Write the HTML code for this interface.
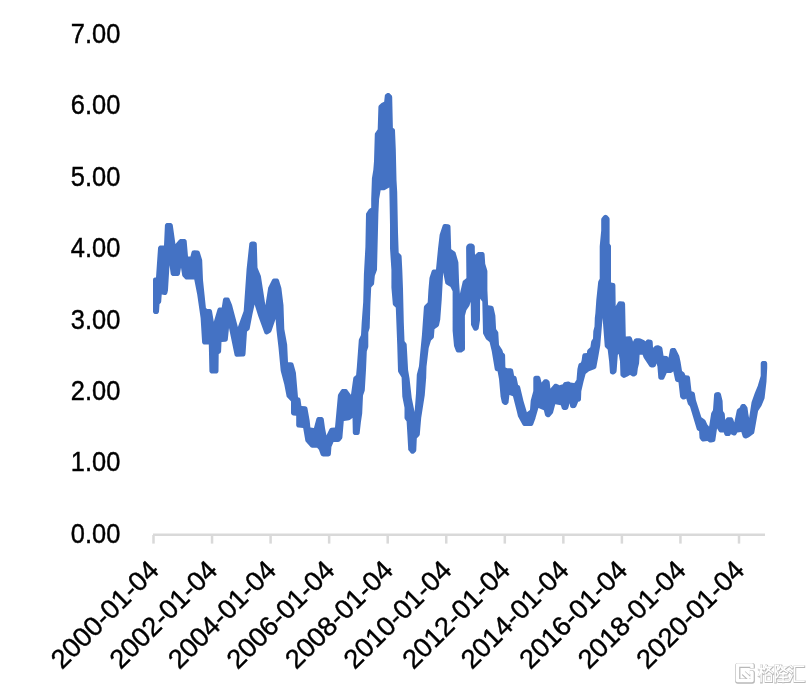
<!DOCTYPE html>
<html><head><meta charset="utf-8"><style>
html,body{margin:0;padding:0;background:#fff;}
svg{display:block;}
text{font-family:"Liberation Sans",sans-serif;font-size:26.5px;fill:#000;stroke:#000;stroke-width:0.4px;}
</style></head><body>
<svg width="810" height="690" viewBox="0 0 810 690">
<rect width="810" height="690" fill="#fff"/>
<rect x="153" y="533.5" width="612" height="2.5" fill="#D9D9D9"/>
<rect x="152.25" y="535" width="2.5" height="8.6" fill="#D9D9D9"/><rect x="210.80" y="535" width="2.5" height="8.6" fill="#D9D9D9"/><rect x="269.35" y="535" width="2.5" height="8.6" fill="#D9D9D9"/><rect x="327.90" y="535" width="2.5" height="8.6" fill="#D9D9D9"/><rect x="386.45" y="535" width="2.5" height="8.6" fill="#D9D9D9"/><rect x="445.00" y="535" width="2.5" height="8.6" fill="#D9D9D9"/><rect x="503.55" y="535" width="2.5" height="8.6" fill="#D9D9D9"/><rect x="562.10" y="535" width="2.5" height="8.6" fill="#D9D9D9"/><rect x="620.65" y="535" width="2.5" height="8.6" fill="#D9D9D9"/><rect x="679.20" y="535" width="2.5" height="8.6" fill="#D9D9D9"/><rect x="737.75" y="535" width="2.5" height="8.6" fill="#D9D9D9"/>

<path d="M155.5,277.4 L154.9,277.5 L154.2,277.7 L153.7,278.1 L153.3,278.6 L153.1,279.3 L153.0,279.9 L153.0,311.5 L153.1,312.1 L153.3,312.8 L153.7,313.3 L154.2,313.7 L154.9,313.9 L155.5,314.0 L156.5,314.0 L157.1,313.9 L157.7,313.7 L158.2,313.3 L158.6,312.8 L158.8,312.3 L159.0,311.7 L159.5,304.2 L159.5,304.0 L159.6,304.0 L160.2,303.6 L160.7,303.1 L161.0,302.5 L161.2,301.8 L161.7,294.7 L161.7,294.5 L161.9,294.5 L164.3,295.0 L165.0,295.1 L165.6,295.0 L166.2,294.7 L166.7,294.3 L167.0,293.7 L167.3,293.2 L168.0,290.2 L168.0,289.8 L169.5,265.2 L169.5,265.1 L169.5,265.2 L170.7,273.8 L170.9,274.5 L171.3,275.1 L171.8,275.6 L172.5,275.9 L173.2,276.0 L177.5,276.0 L178.2,275.9 L178.8,275.6 L179.3,275.2 L179.7,274.6 L179.9,273.9 L181.0,267.7 L181.0,267.6 L181.0,267.7 L182.2,275.2 L182.4,276.0 L182.8,276.6 L184.9,278.8 L185.4,279.2 L186.0,279.5 L186.7,279.6 L194.1,279.6 L194.3,279.6 L194.3,279.8 L197.2,294.5 L197.2,294.5 L200.6,317.9 L200.6,318.1 L202.1,342.2 L202.2,342.8 L202.4,343.3 L202.8,343.8 L203.3,344.2 L203.9,344.4 L204.6,344.5 L208.6,344.5 L208.8,344.5 L208.8,344.7 L209.4,371.1 L209.5,371.7 L209.8,372.3 L210.2,372.8 L210.7,373.2 L211.3,373.4 L211.9,373.5 L216.0,373.5 L216.7,373.4 L217.3,373.2 L217.8,372.8 L218.2,372.3 L218.4,371.7 L218.5,371.0 L218.7,354.2 L218.7,354.0 L218.9,353.9 L219.6,353.6 L220.2,353.3 L220.6,352.7 L220.9,352.1 L221.1,351.4 L221.5,342.2 L221.5,342.0 L221.7,342.0 L225.5,341.7 L226.2,341.6 L226.8,341.3 L227.3,340.8 L227.6,340.2 L227.8,339.5 L229.0,328.0 L229.0,327.9 L229.0,328.0 L234.5,354.7 L234.7,355.4 L235.1,356.0 L235.7,356.4 L236.3,356.7 L237.0,356.7 L243.0,356.6 L243.6,356.5 L244.2,356.2 L244.7,355.9 L245.1,355.4 L245.3,354.8 L245.5,354.2 L247.0,331.7 L247.0,331.5 L247.1,331.4 L248.7,330.3 L249.2,329.9 L249.5,329.3 L249.7,328.7 L252.4,314.5 L252.4,314.5 L254.6,304.5 L254.6,304.4 L254.6,304.5 L258.2,315.9 L258.2,316.1 L264.3,332.8 L264.6,333.4 L265.0,333.8 L265.6,334.2 L266.2,334.4 L266.8,334.4 L267.5,334.3 L268.1,334.0 L270.5,332.4 L271.1,331.8 L271.5,331.1 L275.5,319.2 L275.6,319.1 L275.6,319.2 L276.5,330.4 L276.5,330.4 L278.5,347.8 L278.5,347.8 L280.7,370.8 L280.8,371.2 L284.3,384.6 L284.3,384.6 L286.5,396.0 L286.7,396.7 L287.1,397.2 L290.9,401.2 L291.0,401.3 L291.0,401.5 L291.0,413.0 L291.1,413.6 L291.3,414.1 L291.6,414.6 L292.1,415.0 L292.6,415.3 L293.2,415.5 L296.0,415.8 L296.2,415.8 L296.2,416.0 L296.2,425.1 L296.3,425.7 L296.5,426.3 L296.9,426.8 L297.3,427.2 L297.9,427.5 L298.5,427.6 L303.0,428.0 L303.2,428.0 L303.2,428.2 L305.3,440.5 L305.5,441.2 L305.9,441.7 L310.3,446.8 L310.8,447.3 L311.4,447.6 L312.1,447.7 L316.8,447.7 L317.0,447.7 L317.1,447.8 L318.9,449.8 L319.0,449.9 L319.0,450.0 L320.7,454.7 L321.0,455.3 L321.4,455.7 L321.9,456.1 L322.5,456.3 L323.1,456.4 L328.4,456.4 L329.0,456.3 L329.6,456.1 L330.1,455.7 L330.5,455.3 L330.7,454.7 L330.9,454.1 L331.4,447.2 L331.5,446.8 L333.5,442.1 L333.6,441.9 L333.8,441.9 L338.2,441.9 L338.9,441.8 L339.6,441.5 L340.2,441.0 L341.8,438.9 L342.2,438.3 L342.4,437.5 L343.8,421.1 L343.8,420.9 L344.0,420.9 L349.0,420.2 L349.6,420.0 L350.1,419.7 L352.4,418.1 L352.5,418.0 L352.5,418.2 L352.8,432.5 L352.9,433.2 L353.1,433.8 L353.5,434.3 L354.0,434.7 L354.6,434.9 L355.3,435.0 L357.3,435.0 L357.9,434.9 L358.4,434.7 L358.9,434.4 L359.3,433.9 L359.6,433.4 L359.7,432.8 L360.9,422.2 L360.9,422.2 L362.2,413.6 L362.2,413.4 L363.0,395.7 L363.1,395.3 L364.7,390.7 L364.8,390.0 L366.0,370.0 L366.0,370.0 L366.8,351.4 L366.9,351.0 L368.2,347.2 L368.3,346.4 L368.3,332.5 L368.4,332.1 L369.6,328.3 L369.7,327.6 L370.4,304.8 L370.4,304.8 L371.2,287.6 L371.2,287.4 L371.3,287.3 L373.4,285.1 L373.7,284.7 L374.0,284.2 L374.1,283.6 L374.8,276.0 L374.9,275.6 L376.8,270.4 L377.0,269.6 L378.4,213.5 L378.4,213.5 L379.1,199.1 L379.1,198.9 L380.6,190.5 L380.6,190.3 L380.8,190.3 L383.5,190.3 L384.2,190.2 L384.8,190.0 L389.2,187.5 L389.3,187.4 L389.3,187.6 L390.0,225.0 L390.0,225.0 L390.0,248.2 L390.0,248.4 L391.4,270.0 L391.4,270.0 L391.4,287.3 L391.4,287.5 L392.8,303.9 L392.9,304.5 L393.2,305.0 L393.5,305.4 L395.7,307.6 L395.8,307.7 L395.8,307.9 L397.2,343.9 L398.0,370.9 L398.1,371.6 L398.4,372.2 L401.5,377.3 L401.6,377.4 L401.6,377.6 L402.3,396.0 L402.3,396.4 L404.5,407.7 L404.5,407.9 L404.5,417.7 L404.6,418.5 L405.0,419.2 L406.5,421.2 L406.6,421.3 L406.6,421.5 L407.4,434.8 L408.2,449.1 L408.2,449.7 L408.4,450.2 L408.8,450.6 L410.7,452.9 L411.2,453.4 L411.8,453.7 L412.5,453.8 L413.2,453.7 L413.9,453.4 L414.4,453.0 L415.7,451.7 L416.0,451.2 L416.2,450.7 L416.3,450.1 L416.8,438.5 L416.8,438.3 L416.9,438.2 L419.1,436.0 L419.4,435.6 L419.7,435.1 L419.8,434.5 L421.2,418.0 L421.2,418.0 L424.8,394.9 L424.8,394.7 L426.2,377.5 L426.2,377.3 L426.5,366.9 L426.5,366.7 L428.7,348.1 L428.7,347.9 L430.9,340.8 L430.9,340.7 L431.0,340.6 L433.1,338.5 L433.5,338.0 L433.8,337.5 L433.9,336.9 L434.5,329.3 L434.5,329.1 L434.7,329.0 L438.0,326.8 L438.4,326.3 L438.8,325.8 L439.0,325.2 L440.3,319.2 L440.3,318.8 L441.7,300.0 L441.7,300.0 L443.2,272.5 L443.2,272.4 L443.2,272.5 L445.2,282.8 L445.4,283.5 L445.8,284.0 L446.4,284.5 L450.2,286.7 L450.4,286.8 L450.5,287.0 L452.5,291.1 L452.6,291.2 L452.6,291.3 L452.6,330.5 L452.6,330.7 L454.0,345.7 L454.1,346.3 L455.9,351.0 L456.2,351.5 L456.6,352.0 L457.1,352.3 L457.6,352.5 L458.2,352.6 L460.7,352.6 L461.5,352.5 L462.2,352.1 L464.0,350.8 L464.4,350.4 L464.7,349.9 L464.9,349.3 L465.0,348.7 L464.9,316.2 L464.9,315.8 L466.3,310.5 L466.5,310.1 L469.1,306.3 L469.4,305.7 L470.7,301.8 L470.7,301.7 L470.7,301.8 L471.0,324.4 L471.1,325.0 L471.3,325.5 L473.3,329.5 L473.7,330.0 L474.2,330.5 L474.8,330.7 L475.5,330.8 L476.1,330.7 L476.8,330.5 L477.5,330.1 L478.0,329.6 L478.5,329.0 L478.7,328.3 L480.0,320.2 L480.0,319.8 L480.1,298.9 L480.1,298.7 L480.2,298.8 L482.2,301.4 L482.3,301.6 L482.3,301.8 L483.0,332.9 L483.1,333.5 L483.3,334.0 L485.8,338.8 L486.0,339.3 L486.4,339.6 L489.5,342.1 L489.6,342.2 L489.6,342.3 L491.7,350.9 L491.7,350.9 L494.7,369.1 L494.9,369.7 L495.2,370.2 L495.6,370.7 L496.2,371.0 L496.8,371.2 L497.4,371.3 L497.6,371.3 L497.6,371.5 L499.0,378.9 L499.0,379.1 L500.5,395.8 L500.5,396.2 L501.8,402.2 L502.1,402.9 L502.6,403.5 L503.7,404.5 L504.3,404.8 L504.8,405.0 L505.5,405.1 L506.1,405.0 L506.6,404.7 L507.1,404.4 L507.9,403.6 L508.2,403.2 L508.5,402.7 L508.6,402.1 L509.4,395.1 L509.4,394.9 L509.6,395.0 L512.9,396.3 L513.0,396.4 L513.0,396.5 L516.7,410.9 L516.7,410.9 L518.0,416.4 L518.3,417.0 L522.5,424.8 L522.9,425.3 L523.4,425.7 L524.0,426.0 L524.7,426.1 L530.8,426.1 L531.5,426.0 L532.0,425.8 L532.5,425.5 L532.9,425.0 L533.2,424.5 L535.5,418.2 L535.5,418.0 L538.4,408.1 L538.4,408.0 L538.5,408.1 L543.8,410.3 L543.9,410.4 L543.9,410.5 L545.0,414.9 L545.2,415.6 L545.6,416.1 L546.1,416.5 L546.9,417.0 L547.5,417.2 L548.2,417.3 L548.9,417.2 L549.5,416.9 L550.0,416.4 L552.6,413.4 L552.9,413.0 L553.1,412.4 L555.2,404.4 L555.2,404.3 L555.4,404.3 L560.7,405.2 L560.9,405.2 L560.9,405.4 L561.7,408.1 L561.9,408.7 L562.4,409.2 L562.9,409.6 L563.5,409.9 L564.2,409.9 L565.9,409.9 L566.6,409.8 L567.2,409.5 L567.7,409.1 L568.0,408.6 L568.3,408.0 L569.6,403.2 L569.6,403.1 L569.6,403.2 L570.1,406.0 L570.2,406.6 L570.5,407.2 L571.0,407.6 L571.5,407.9 L572.1,408.1 L572.7,408.2 L574.1,408.1 L574.8,408.0 L575.4,407.6 L575.9,407.1 L576.3,406.5 L578.2,401.8 L578.3,401.7 L578.4,401.7 L578.5,401.7 L579.1,401.6 L579.7,401.4 L580.2,401.0 L580.6,400.5 L580.9,399.9 L581.0,399.3 L581.3,391.4 L581.3,391.2 L583.5,381.7 L583.5,381.7 L585.6,374.1 L585.7,373.9 L585.8,373.8 L587.7,372.2 L587.8,372.2 L588.6,371.5 L589.0,371.2 L594.9,368.9 L595.5,368.6 L595.9,368.2 L596.3,367.6 L596.4,367.0 L598.3,356.8 L598.3,356.8 L600.3,345.3 L600.3,345.1 L602.6,317.9 L602.6,317.8 L602.6,317.9 L604.7,345.8 L604.8,346.4 L605.1,346.9 L605.5,347.4 L607.6,349.5 L607.7,349.6 L607.7,349.7 L609.1,361.2 L609.1,361.2 L609.9,372.1 L610.0,372.7 L610.3,373.3 L610.7,373.8 L611.2,374.1 L611.7,374.3 L612.2,374.5 L612.8,374.6 L613.4,374.5 L614.0,374.3 L614.5,373.9 L615.7,372.9 L616.2,372.4 L616.4,371.8 L616.6,371.2 L617.8,354.9 L617.8,354.8 L617.9,354.7 L618.6,354.0 L618.7,353.9 L618.7,354.1 L620.0,361.6 L620.0,361.8 L620.4,374.5 L620.5,375.2 L620.8,375.9 L621.4,376.4 L622.7,377.4 L623.3,377.7 L623.9,377.9 L624.6,377.8 L625.3,377.6 L627.3,376.6 L627.5,376.4 L629.9,374.9 L630.0,374.8 L630.2,374.9 L632.2,376.2 L632.8,376.4 L633.5,376.5 L634.2,376.4 L634.8,376.2 L636.0,375.4 L636.6,375.0 L637.0,374.3 L637.2,373.6 L637.8,368.8 L637.8,368.6 L639.0,363.7 L639.1,363.3 L639.6,355.0 L639.6,354.8 L639.8,354.8 L642.4,354.8 L642.6,354.8 L642.7,354.9 L643.4,357.1 L643.7,357.7 L649.3,366.3 L649.7,366.7 L650.2,367.1 L650.7,367.3 L651.4,367.4 L653.4,367.4 L654.0,367.3 L654.6,367.1 L655.1,366.7 L655.5,366.3 L655.8,365.7 L656.4,363.7 L656.5,363.6 L656.6,363.7 L657.3,366.0 L657.4,366.3 L658.3,377.5 L658.4,378.1 L658.7,378.7 L659.1,379.1 L659.6,379.5 L660.2,379.7 L660.8,379.8 L662.1,379.8 L662.8,379.7 L663.4,379.4 L664.0,378.9 L664.4,378.3 L666.6,373.2 L666.7,373.0 L666.9,373.0 L670.2,373.0 L670.8,372.9 L671.3,372.8 L671.8,372.5 L673.2,371.4 L673.3,371.3 L673.3,371.5 L675.1,380.0 L675.2,380.6 L675.6,381.1 L676.0,381.5 L676.5,381.8 L677.1,382.0 L678.3,382.2 L678.5,382.2 L678.5,382.4 L680.1,396.5 L680.2,397.1 L680.5,397.6 L680.8,398.0 L681.6,398.8 L682.2,399.3 L682.9,399.5 L683.6,399.6 L684.3,399.4 L686.1,398.7 L686.3,398.6 L686.3,398.8 L687.8,403.7 L687.9,404.2 L688.2,404.6 L689.9,406.6 L690.0,406.7 L690.0,406.8 L696.7,429.1 L697.0,429.7 L697.5,430.3 L698.1,430.7 L698.9,431.0 L699.1,431.1 L699.1,431.3 L699.5,437.7 L699.7,438.5 L700.1,439.1 L701.3,440.7 L701.8,441.1 L702.3,441.4 L703.0,441.6 L703.6,441.6 L707.2,441.0 L707.4,441.0 L707.5,441.1 L709.1,442.2 L709.7,442.5 L710.4,442.6 L711.1,442.5 L713.6,441.9 L714.1,441.7 L714.6,441.4 L715.0,440.9 L715.3,440.4 L715.4,439.8 L717.0,428.7 L717.0,428.5 L717.1,428.6 L718.9,431.4 L719.3,431.9 L719.8,432.3 L720.4,432.5 L721.0,432.6 L723.7,432.6 L723.9,432.6 L723.9,432.8 L724.3,434.2 L724.6,434.8 L724.9,435.3 L725.4,435.7 L726.0,436.0 L726.6,436.1 L728.1,436.1 L728.8,436.1 L729.4,435.9 L730.0,435.5 L730.4,435.0 L730.8,434.2 L730.9,434.1 L731.0,434.2 L733.0,435.3 L733.6,435.5 L734.2,435.6 L734.9,435.5 L735.5,435.2 L736.0,434.8 L736.4,434.3 L737.3,432.5 L737.4,432.4 L737.6,432.4 L741.1,432.0 L741.3,432.0 L741.4,432.2 L742.7,436.5 L743.0,437.1 L743.4,437.6 L744.0,438.0 L744.6,438.3 L745.3,438.5 L746.1,438.5 L746.8,438.3 L748.9,437.3 L749.3,437.1 L753.3,434.1 L753.8,433.7 L754.1,433.1 L754.3,432.5 L758.0,411.5 L758.1,411.1 L761.2,406.3 L761.4,405.9 L764.5,398.6 L764.6,397.9 L766.5,381.4 L766.5,381.2 L767.2,368.1 L767.2,367.9 L767.2,363.5 L767.1,362.9 L766.9,362.2 L766.5,361.7 L766.0,361.3 L765.3,361.1 L764.7,361.0 L763.2,361.0 L762.6,361.1 L762.0,361.3 L761.4,361.7 L761.0,362.2 L760.8,362.9 L760.7,363.5 L760.7,375.8 L760.6,376.2 L758.0,385.1 L758.0,385.3 L754.8,392.9 L754.8,393.1 L751.6,402.0 L751.5,402.4 L749.1,418.1 L749.1,418.2 L749.1,418.1 L748.3,413.7 L748.3,413.7 L747.5,407.8 L747.3,407.2 L747.0,406.7 L745.7,404.9 L745.2,404.4 L744.6,404.1 L744.0,403.9 L743.4,403.9 L742.7,403.9 L742.1,404.1 L741.5,404.4 L741.0,404.8 L740.7,405.3 L739.7,407.4 L739.6,407.6 L739.5,407.7 L737.9,408.7 L737.4,409.2 L737.0,409.7 L736.8,410.3 L734.3,422.2 L734.3,422.3 L734.2,422.2 L733.2,418.9 L732.9,418.4 L732.5,417.9 L732.0,417.5 L731.4,417.3 L730.8,417.2 L728.3,417.2 L727.7,417.3 L727.1,417.5 L726.7,417.8 L726.3,418.3 L725.3,419.7 L725.2,419.8 L725.2,419.6 L724.8,414.4 L724.7,413.7 L724.4,413.1 L723.1,411.2 L723.0,411.1 L723.0,410.9 L722.6,401.0 L722.5,400.4 L720.9,394.0 L720.6,393.4 L720.2,392.8 L719.7,392.4 L719.0,392.2 L718.3,392.1 L716.5,392.3 L715.8,392.4 L715.1,392.7 L714.6,393.2 L714.3,393.9 L714.1,394.6 L713.0,410.0 L713.0,410.2 L712.9,410.3 L711.6,412.4 L711.4,412.8 L711.2,413.3 L709.1,426.5 L709.1,426.7 L709.0,426.6 L707.5,424.7 L707.3,424.5 L705.5,420.4 L705.1,419.9 L704.6,419.4 L701.4,417.3 L701.3,417.2 L701.3,417.1 L695.9,400.1 L695.9,399.9 L694.9,393.8 L694.6,393.1 L694.3,392.5 L693.7,392.0 L693.1,391.8 L691.6,391.3 L691.5,391.3 L691.5,391.2 L690.0,377.7 L689.9,377.0 L689.5,376.4 L689.0,376.0 L688.5,375.6 L687.8,375.5 L685.6,375.2 L685.4,375.2 L685.3,375.0 L684.8,373.7 L684.5,373.1 L684.1,372.6 L682.1,371.0 L682.0,370.9 L682.0,370.7 L680.7,362.7 L680.7,362.5 L679.4,356.4 L679.2,355.8 L676.1,349.4 L675.8,348.9 L675.4,348.5 L674.8,348.1 L674.3,348.0 L673.6,348.0 L672.1,348.1 L671.5,348.3 L670.9,348.6 L670.4,349.0 L670.1,349.5 L669.9,350.2 L668.5,357.6 L668.5,357.7 L668.4,357.7 L668.4,357.5 L668.0,356.9 L667.5,356.4 L667.0,356.1 L666.3,356.0 L663.7,355.7 L663.5,355.7 L663.5,355.5 L662.4,348.3 L662.2,347.7 L661.9,347.2 L661.5,346.8 L661.0,346.4 L659.0,345.5 L658.3,345.3 L657.5,345.3 L656.0,345.6 L655.3,345.8 L654.6,346.2 L653.1,347.7 L653.0,347.8 L653.0,347.6 L652.7,342.0 L652.6,341.4 L652.3,340.7 L651.8,340.2 L651.3,339.9 L650.6,339.7 L648.7,339.4 L648.1,339.3 L647.5,339.5 L647.0,339.7 L646.5,340.1 L646.1,340.6 L645.8,341.2 L645.7,341.3 L645.6,341.2 L644.1,340.2 L643.7,339.9 L640.5,338.5 L640.0,338.4 L639.5,338.3 L636.3,338.3 L635.6,338.4 L635.0,338.7 L634.5,339.1 L634.1,339.6 L633.1,341.6 L633.0,341.7 L633.0,341.5 L631.9,338.0 L631.6,337.4 L631.2,336.9 L630.6,336.5 L630.0,336.3 L629.3,336.2 L626.0,336.5 L625.8,336.5 L625.8,336.3 L625.1,303.9 L624.9,303.2 L624.6,302.5 L624.1,302.0 L623.5,301.6 L622.8,301.5 L620.2,301.2 L619.5,301.2 L618.8,301.4 L618.2,301.8 L617.8,302.4 L615.8,305.9 L615.7,305.9 L615.7,305.8 L615.4,285.4 L615.3,284.7 L615.0,284.1 L614.6,283.5 L614.0,283.1 L613.4,282.9 L611.2,282.5 L611.0,282.5 L611.0,282.3 L611.0,246.3 L610.9,245.5 L610.5,244.9 L609.7,243.7 L609.6,243.5 L609.6,243.3 L609.6,219.0 L609.5,218.4 L609.3,217.8 L608.9,217.3 L607.3,215.6 L606.8,215.2 L606.3,215.0 L605.7,214.8 L605.1,214.9 L604.5,215.0 L604.0,215.4 L603.5,215.8 L601.7,218.1 L601.4,218.6 L601.3,219.1 L601.2,219.7 L601.2,230.3 L601.2,230.5 L599.7,246.3 L599.7,246.5 L599.7,278.8 L599.7,279.0 L599.6,279.1 L598.6,280.7 L598.4,281.2 L598.2,281.8 L596.3,300.0 L596.3,300.0 L595.4,313.0 L595.4,313.0 L594.8,317.9 L594.8,318.1 L594.5,326.3 L594.5,326.5 L593.4,330.7 L593.3,331.3 L593.0,338.4 L593.0,338.6 L592.9,338.8 L591.7,340.4 L591.4,340.9 L591.2,341.5 L590.4,347.1 L590.4,347.2 L590.3,347.3 L587.9,349.4 L587.5,349.9 L587.3,350.5 L587.1,351.1 L587.0,352.8 L587.0,353.0 L586.8,353.0 L584.6,353.2 L584.0,353.3 L583.4,353.6 L582.9,354.1 L582.5,354.7 L582.3,355.3 L581.7,359.9 L581.7,360.1 L581.0,362.4 L580.9,362.6 L580.7,362.7 L579.9,363.0 L579.4,363.3 L578.9,363.7 L578.6,364.2 L578.4,364.7 L577.5,368.5 L577.4,368.9 L576.5,379.8 L576.5,380.0 L576.4,380.1 L574.4,382.9 L574.3,383.0 L574.1,383.0 L570.5,382.6 L570.4,382.6 L570.3,382.5 L569.8,382.0 L569.3,381.7 L568.6,381.5 L568.0,381.5 L565.2,382.0 L564.6,382.1 L564.1,382.4 L563.6,382.8 L563.3,383.3 L563.1,383.8 L563.0,384.1 L563.0,384.3 L562.8,384.3 L559.3,385.2 L559.1,385.2 L559.0,385.1 L557.0,384.0 L556.4,383.8 L555.7,383.7 L555.0,383.8 L554.4,384.1 L553.9,384.6 L550.5,388.6 L550.4,388.7 L550.4,388.5 L549.7,382.3 L549.5,381.6 L549.2,381.0 L548.7,380.5 L547.4,379.6 L546.8,379.3 L546.1,379.2 L545.4,379.2 L544.9,379.3 L544.3,379.5 L543.8,379.8 L543.4,380.2 L541.6,382.5 L541.5,382.6 L541.5,382.4 L540.3,377.6 L540.0,376.9 L539.6,376.4 L539.0,375.9 L538.4,375.7 L537.7,375.7 L535.6,375.8 L535.0,375.9 L534.4,376.2 L534.0,376.6 L533.6,377.1 L533.4,377.7 L533.3,378.3 L533.3,390.7 L533.3,391.1 L530.8,400.2 L530.7,400.6 L530.0,409.8 L530.0,410.0 L529.9,410.1 L526.9,412.2 L526.8,412.3 L526.8,412.1 L523.5,401.0 L523.5,401.0 L520.1,386.8 L519.8,386.2 L519.4,385.6 L518.8,385.2 L518.2,384.9 L518.0,384.8 L518.0,384.6 L516.6,377.8 L516.4,377.2 L516.1,376.7 L515.7,376.3 L515.2,376.0 L514.6,375.8 L514.2,375.7 L514.1,375.7 L514.1,375.5 L513.2,370.4 L512.9,369.7 L512.6,369.1 L512.0,368.7 L511.4,368.4 L510.7,368.3 L507.3,368.3 L507.2,368.3 L507.1,368.2 L505.6,367.5 L505.4,367.4 L505.4,367.2 L505.1,355.3 L504.9,354.6 L504.6,354.0 L504.2,353.5 L503.6,353.1 L503.3,353.0 L503.3,352.9 L502.5,350.4 L502.2,349.7 L499.1,345.1 L499.0,345.0 L499.0,344.8 L498.3,332.8 L498.2,332.0 L497.8,331.4 L496.2,329.2 L496.1,329.1 L496.1,328.9 L495.4,316.2 L495.4,315.8 L493.6,307.7 L493.4,307.1 L493.0,306.6 L492.6,306.2 L492.1,305.9 L491.5,305.7 L488.3,305.2 L488.1,305.2 L488.1,305.0 L487.4,290.0 L487.4,290.0 L487.4,271.3 L487.3,270.5 L485.2,263.7 L485.2,263.5 L484.6,254.3 L484.5,253.7 L484.3,253.2 L483.9,252.7 L483.4,252.3 L482.8,252.1 L482.1,252.0 L479.0,252.0 L478.4,252.1 L477.8,252.3 L477.3,252.7 L475.1,254.8 L475.0,254.9 L475.0,254.7 L474.8,250.0 L474.8,250.0 L474.8,246.8 L474.7,246.0 L474.3,245.3 L473.8,244.6 L473.4,244.2 L472.9,243.9 L472.3,243.7 L471.8,243.6 L469.3,243.6 L468.7,243.7 L468.1,243.9 L467.7,244.2 L467.3,244.7 L466.7,245.5 L466.4,246.0 L466.2,246.7 L466.1,247.9 L466.1,248.1 L466.4,277.9 L466.4,278.1 L466.3,278.2 L463.5,280.5 L463.1,280.8 L462.8,281.3 L462.6,281.9 L459.9,293.8 L459.9,293.9 L459.9,293.8 L459.1,282.5 L459.1,282.5 L458.4,262.5 L458.3,261.9 L455.7,252.9 L455.5,252.3 L455.2,251.9 L454.7,251.5 L451.3,249.2 L451.2,249.1 L451.2,249.0 L450.5,226.7 L450.4,226.1 L450.2,225.5 L449.8,225.1 L449.3,224.7 L448.8,224.4 L448.2,224.3 L445.2,224.0 L444.5,224.0 L443.9,224.2 L443.3,224.6 L442.9,225.1 L442.6,225.7 L439.7,234.4 L439.6,234.9 L438.1,247.7 L438.1,247.7 L436.0,269.2 L436.0,269.4 L435.8,269.4 L434.1,269.4 L433.5,269.5 L432.9,269.7 L432.4,270.1 L432.0,270.5 L431.7,271.1 L429.5,277.8 L429.4,278.4 L428.4,290.3 L428.4,290.3 L427.7,302.2 L427.7,302.3 L427.6,302.4 L424.6,305.6 L424.3,306.0 L424.0,306.5 L423.9,307.1 L421.9,335.2 L421.9,335.2 L419.7,358.0 L419.7,358.0 L419.0,365.7 L419.0,365.9 L416.9,374.3 L416.8,374.8 L416.0,393.3 L416.0,393.3 L414.6,412.0 L414.6,412.1 L414.6,412.0 L411.7,397.8 L411.7,397.6 L409.6,378.9 L409.6,378.7 L408.1,370.1 L408.1,369.9 L406.7,344.7 L406.6,343.9 L406.2,343.3 L404.6,341.2 L404.5,341.0 L404.5,340.8 L403.8,322.2 L403.8,322.2 L403.0,288.8 L403.0,288.8 L402.3,270.0 L402.3,270.0 L401.6,256.5 L401.5,255.9 L401.3,255.3 L400.9,254.8 L398.8,252.7 L398.7,252.6 L398.7,252.4 L398.0,232.3 L398.0,232.3 L397.2,191.8 L397.2,191.7 L396.5,180.0 L396.5,180.0 L395.8,149.6 L395.8,149.6 L395.0,130.5 L394.9,129.8 L394.5,129.1 L394.0,128.6 L393.0,127.9 L392.9,127.8 L392.9,127.7 L392.2,97.0 L392.1,96.4 L391.9,95.8 L391.5,95.3 L390.0,93.7 L389.5,93.3 L388.8,93.0 L388.2,93.0 L387.5,93.0 L386.9,93.3 L386.0,93.9 L385.5,94.2 L385.2,94.7 L384.9,95.2 L384.8,95.8 L384.2,101.5 L384.2,101.7 L384.1,101.8 L381.6,103.0 L381.0,103.5 L379.1,105.3 L378.7,105.8 L378.5,106.4 L378.4,107.0 L377.7,129.1 L377.7,129.3 L377.6,129.4 L375.2,133.0 L374.9,133.6 L374.8,134.3 L374.0,161.2 L374.0,161.2 L373.3,170.0 L373.3,170.0 L371.9,178.5 L371.9,178.9 L371.2,199.0 L371.2,199.0 L371.2,207.5 L371.2,207.7 L371.1,207.8 L369.5,208.7 L369.0,209.0 L368.7,209.5 L366.4,212.9 L366.1,213.5 L366.0,214.2 L365.4,246.8 L365.4,246.8 L363.9,274.3 L363.9,274.3 L363.2,301.9 L363.2,301.9 L361.7,322.2 L361.7,322.2 L361.0,335.1 L361.0,335.2 L360.9,335.3 L359.0,339.2 L358.8,340.1 L356.8,367.2 L356.8,367.2 L356.1,375.0 L356.1,375.2 L355.9,375.3 L354.4,376.4 L353.9,376.8 L353.5,377.4 L353.3,378.1 L351.0,394.6 L351.0,394.8 L350.9,394.7 L347.4,390.0 L347.1,389.6 L346.6,389.3 L346.0,389.1 L345.4,389.0 L343.0,389.0 L342.4,389.1 L341.8,389.3 L341.3,389.7 L340.9,390.2 L338.3,394.3 L338.1,394.8 L337.9,395.4 L335.0,427.2 L335.0,427.4 L334.8,427.4 L331.4,427.8 L330.7,428.0 L330.2,428.3 L329.7,428.7 L329.4,429.2 L326.5,435.3 L326.4,435.4 L326.4,435.2 L325.0,428.0 L325.0,428.0 L323.8,419.2 L323.6,418.5 L323.2,417.9 L322.7,417.4 L322.0,417.1 L321.3,417.0 L318.7,417.0 L318.1,417.1 L317.5,417.3 L317.0,417.7 L316.6,418.3 L316.3,418.9 L314.0,427.8 L314.0,428.0 L313.8,428.0 L310.6,427.4 L310.4,427.4 L310.4,427.2 L309.7,421.0 L309.7,420.8 L307.5,408.4 L307.3,407.7 L307.0,407.2 L306.5,406.8 L305.9,406.5 L305.3,406.3 L301.6,405.9 L301.4,405.9 L301.4,405.7 L300.5,399.5 L300.4,398.9 L300.1,398.4 L299.7,397.9 L299.2,397.6 L298.7,397.4 L298.1,397.2 L298.0,397.2 L298.0,397.0 L295.9,372.7 L295.8,372.3 L293.5,364.1 L293.3,363.5 L292.9,363.0 L292.3,362.6 L291.8,362.4 L291.1,362.3 L288.2,362.3 L288.0,362.3 L288.0,362.1 L287.2,345.2 L287.2,344.8 L284.3,329.1 L284.3,328.9 L283.5,305.5 L283.5,305.3 L281.4,288.2 L281.3,287.8 L279.0,280.3 L278.8,279.7 L278.4,279.2 L277.9,278.8 L277.3,278.6 L276.6,278.5 L274.2,278.5 L273.6,278.6 L272.9,278.9 L272.4,279.3 L272.0,279.9 L268.5,286.9 L268.2,287.6 L265.4,305.2 L265.4,305.3 L265.4,305.2 L261.0,276.7 L260.9,276.1 L257.6,267.9 L257.5,267.5 L256.8,244.0 L256.7,243.4 L256.4,242.8 L256.0,242.3 L255.5,241.9 L254.9,241.7 L254.3,241.6 L251.7,241.6 L251.1,241.7 L250.6,241.9 L250.1,242.2 L249.7,242.7 L249.4,243.2 L249.3,243.8 L246.6,269.0 L246.6,269.0 L243.7,310.8 L243.6,311.2 L237.9,326.9 L237.8,327.0 L237.8,326.8 L232.0,304.8 L231.9,304.4 L229.6,298.9 L229.3,298.3 L228.7,297.8 L228.1,297.5 L227.3,297.4 L225.5,297.4 L224.8,297.5 L224.1,297.8 L223.6,298.3 L223.2,298.9 L223.0,299.5 L221.8,307.3 L221.8,307.5 L221.6,307.5 L219.9,307.5 L219.2,307.6 L218.6,307.8 L218.1,308.2 L217.7,308.7 L217.5,309.3 L213.8,321.8 L213.8,321.9 L213.8,321.8 L212.0,311.1 L211.8,310.4 L211.4,309.8 L210.9,309.4 L210.3,309.1 L209.6,309.0 L207.5,309.0 L207.3,309.0 L207.1,308.9 L206.0,308.1 L205.9,308.0 L205.9,307.8 L203.0,280.0 L203.0,280.0 L202.2,260.3 L202.1,259.7 L199.8,252.3 L199.6,251.7 L199.2,251.2 L198.7,250.9 L198.2,250.6 L197.6,250.5 L194.1,250.3 L193.4,250.4 L192.7,250.6 L192.2,251.0 L191.8,251.6 L191.5,252.2 L190.5,256.3 L190.5,256.5 L190.3,256.5 L188.2,256.5 L188.0,256.5 L188.0,256.3 L186.7,241.3 L186.6,240.7 L186.3,240.1 L185.9,239.7 L185.4,239.3 L184.8,239.1 L184.2,239.0 L180.9,239.0 L180.2,239.1 L179.6,239.4 L179.1,239.8 L175.5,243.9 L175.4,244.0 L175.4,243.8 L172.8,225.2 L172.6,224.5 L172.2,223.9 L171.7,223.4 L171.0,223.1 L170.3,223.0 L167.4,223.0 L166.8,223.1 L166.2,223.3 L165.7,223.7 L165.3,224.2 L165.0,224.8 L164.9,225.4 L164.0,245.3 L164.0,245.5 L163.8,245.5 L160.7,245.5 L160.1,245.6 L159.5,245.8 L159.1,246.1 L158.7,246.6 L158.4,247.1 L158.1,247.6 L158.0,248.4 L156.0,277.2 L156.0,277.4 L155.8,277.4 L155.5,277.4 Z " fill="#4472C4" fill-rule="evenodd"/>
<defs><filter id="noop"><feOffset dx="0" dy="0"/></filter></defs>
<g filter="url(#noop)">
<text x="0" y="0" text-anchor="end" transform="translate(120.3,43.00) scale(0.96,1.078)">7.00</text>
<text x="0" y="0" text-anchor="end" transform="translate(120.3,114.39) scale(0.96,1.078)">6.00</text>
<text x="0" y="0" text-anchor="end" transform="translate(120.3,185.78) scale(0.96,1.078)">5.00</text>
<text x="0" y="0" text-anchor="end" transform="translate(120.3,257.17) scale(0.96,1.078)">4.00</text>
<text x="0" y="0" text-anchor="end" transform="translate(120.3,328.56) scale(0.96,1.078)">3.00</text>
<text x="0" y="0" text-anchor="end" transform="translate(120.3,399.95) scale(0.96,1.078)">2.00</text>
<text x="0" y="0" text-anchor="end" transform="translate(120.3,471.34) scale(0.96,1.078)">1.00</text>
<text x="0" y="0" text-anchor="end" transform="translate(120.3,542.73) scale(0.96,1.078)">0.00</text>

<text x="0" y="0" text-anchor="end" transform="translate(160.50,571.90) rotate(-45) scale(1.027,1.02)">2000-01-04</text>
<text x="0" y="0" text-anchor="end" transform="translate(219.05,571.90) rotate(-45) scale(1.027,1.02)">2002-01-04</text>
<text x="0" y="0" text-anchor="end" transform="translate(277.60,571.90) rotate(-45) scale(1.027,1.02)">2004-01-04</text>
<text x="0" y="0" text-anchor="end" transform="translate(336.15,571.90) rotate(-45) scale(1.027,1.02)">2006-01-04</text>
<text x="0" y="0" text-anchor="end" transform="translate(394.70,571.90) rotate(-45) scale(1.027,1.02)">2008-01-04</text>
<text x="0" y="0" text-anchor="end" transform="translate(453.25,571.90) rotate(-45) scale(1.027,1.02)">2010-01-04</text>
<text x="0" y="0" text-anchor="end" transform="translate(511.80,571.90) rotate(-45) scale(1.027,1.02)">2012-01-04</text>
<text x="0" y="0" text-anchor="end" transform="translate(570.35,571.90) rotate(-45) scale(1.027,1.02)">2014-01-04</text>
<text x="0" y="0" text-anchor="end" transform="translate(628.90,571.90) rotate(-45) scale(1.027,1.02)">2016-01-04</text>
<text x="0" y="0" text-anchor="end" transform="translate(687.45,571.90) rotate(-45) scale(1.027,1.02)">2018-01-04</text>
<text x="0" y="0" text-anchor="end" transform="translate(746.00,571.90) rotate(-45) scale(1.027,1.02)">2020-01-04</text>

</g>
<defs><filter id="wsh" x="-20%" y="-20%" width="140%" height="140%"><feGaussianBlur stdDeviation="0.7"/></filter></defs>
<g fill="none" stroke-linecap="square">
<g filter="url(#wsh)" stroke="#b8b8b8" transform="translate(0.3,0.5)"><path d="M752,667.9 V665 H737.5 V680.6 H752 V672.4 H749.5 M743.2,672.6 L749.6,678.4" stroke-width="5.2" stroke-linejoin="round" stroke-linecap="butt"/><path d="M758.9,668.8 H763.4 M761.1,665.2 V681.6 M761,670 L758.9,675.5 M761.3,670.5 L763.4,673 M766.2,665.3 L764.3,669.6 M765.8,667.2 H771 L765.2,673 M767.3,668.8 L772.8,673 M765.6,675 H771.4 V681.3 H765.6 Z M775.2,665.2 V681.8 M775.2,665.4 H778.3 L776.6,671.4 L778.3,674.8 L776.6,677.5 M780.7,665.2 L778.6,669.4 M780.3,667 H786.2 L779.5,672.2 M781.8,668.5 L787.6,672.2 M779.8,673.8 H786.6 M783,673.8 V681.5 M779.2,677.5 H787 M778.6,681.3 H788 M790.4,666 L791.9,667.6 M789.8,671.2 L791.4,672.6 M789.6,680.8 L792,675.8 M803.6,666.2 H794.6 V681.2 H804" stroke-width="2.6"/></g>
<g stroke="#ffffff"><path d="M752,667.9 V665 H737.5 V680.6 H752 V672.4 H749.5 M743.2,672.6 L749.6,678.4" stroke-width="3.4" stroke-linecap="butt" stroke-linejoin="round"/><path d="M758.9,668.8 H763.4 M761.1,665.2 V681.6 M761,670 L758.9,675.5 M761.3,670.5 L763.4,673 M766.2,665.3 L764.3,669.6 M765.8,667.2 H771 L765.2,673 M767.3,668.8 L772.8,673 M765.6,675 H771.4 V681.3 H765.6 Z M775.2,665.2 V681.8 M775.2,665.4 H778.3 L776.6,671.4 L778.3,674.8 L776.6,677.5 M780.7,665.2 L778.6,669.4 M780.3,667 H786.2 L779.5,672.2 M781.8,668.5 L787.6,672.2 M779.8,673.8 H786.6 M783,673.8 V681.5 M779.2,677.5 H787 M778.6,681.3 H788 M790.4,666 L791.9,667.6 M789.8,671.2 L791.4,672.6 M789.6,680.8 L792,675.8 M803.6,666.2 H794.6 V681.2 H804" stroke-width="1.5"/></g>
</g>

</svg>
</body></html>
